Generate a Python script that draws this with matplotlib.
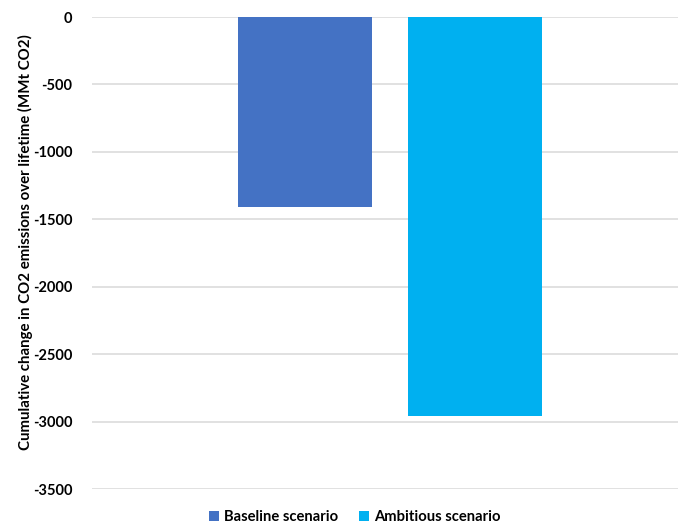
import matplotlib

matplotlib.use("Agg")
import matplotlib.pyplot as plt
from matplotlib.patches import Patch

# values
scenarios = ["Baseline scenario", "Ambitious scenario"]
emission_change = [-1405, -2960]
colors = ["#4472C4", "#00B0F0"]
y_ticks = [0, -500, -1000, -1500, -2000, -2500, -3000, -3500]

plt.rcParams["font.family"] = ["Lato", "DejaVu Sans"]
plt.rcParams["font.weight"] = "bold"

fig = plt.figure(figsize=(6.78, 5.25), dpi=100)
ax = fig.add_axes([0.1357, 0.068, 0.8643, 0.8996])

positions = list(range(len(scenarios)))
ax.bar(positions, emission_change, width=0.79, color=colors, zorder=2)

ax.set_ylim(-3500, 0)
ax.set_xlim(-1.253, 2.194)
ax.set_yticks(y_ticks)
ax.set_yticklabels([str(v) for v in y_ticks], fontsize=10.5, fontweight="bold")
ax.set_xticks([])
ax.tick_params(axis="y", length=0, pad=14)
ax.grid(axis="y", color="#d9d9d9", linewidth=1.1, zorder=0)
for spine in ax.spines.values():
    spine.set_visible(False)

ax.set_ylabel(
    "Cumulative change in CO2 emissions over lifetime (MMt CO2)",
    fontsize=10.8,
    fontweight="bold",
)
ax.yaxis.set_label_coords(-0.100, 0.5236)

handles = [Patch(facecolor=c, edgecolor="none") for c in colors]
fig.legend(
    handles,
    scenarios,
    loc="center",
    bbox_to_anchor=(355 / 678, 1 - 517 / 525),
    ncol=2,
    frameon=False,
    prop={"size": 10.6, "weight": "bold"},
    handlelength=0.7,
    handleheight=0.7,
    handletextpad=0.35,
    columnspacing=1.4,
)

fig.savefig("out.png", dpi=100)
